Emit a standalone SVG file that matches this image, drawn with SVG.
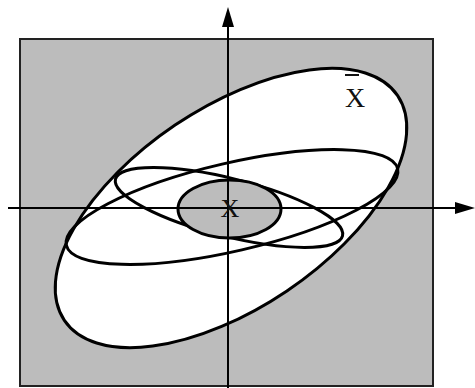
<svg xmlns="http://www.w3.org/2000/svg" width="475" height="388" viewBox="0 0 475 388">
<style>
.curve{fill:none;stroke:#000;stroke-width:3}
.axis{stroke:#000;stroke-width:2;fill:none}
.lbl{font-family:"Liberation Serif","Times New Roman",serif;fill:#111}
</style>
<defs>
<marker id="arr" viewBox="0 0 20 12" refX="0" refY="6" markerWidth="20" markerHeight="12" markerUnits="userSpaceOnUse" orient="auto">
<path d="M0,0 L20,6 L0,12 Z" fill="#000"/>
</marker>
</defs>
<rect width="475" height="388" fill="#fff"/>
<g id="field">
<rect x="20" y="39" width="413" height="347" fill="#bcbcbc" stroke="#222" stroke-width="2"/>
</g>
<g id="outer-ellipse">
<ellipse cx="231" cy="208" rx="201" ry="100" transform="rotate(-34 231 208)" fill="#fff" class="curve" style="fill:#fff"/>
</g>
<g id="ellipse-a">
<ellipse cx="232" cy="207" rx="170" ry="44" transform="rotate(-13 232 207)" class="curve"/>
</g>
<g id="ellipse-b">
<ellipse cx="229" cy="207.5" rx="117" ry="29" transform="rotate(14 229 207.5)" class="curve"/>
</g>
<g id="inner-ellipse">
<ellipse cx="229.5" cy="209" rx="51.5" ry="29" fill="#bcbcbc" class="curve" style="fill:#bcbcbc"/>
</g>
<g id="axes">
<line class="axis" x1="228" y1="388" x2="228" y2="27" marker-end="url(#arr)"/>
<line class="axis" x1="8" y1="208" x2="455" y2="208" marker-end="url(#arr)"/>
</g>
<g id="label-xbar">
<line x1="345" y1="75" x2="359" y2="75" stroke="#111" stroke-width="2"/>
<text class="lbl" x="355" y="107" font-size="28" text-anchor="middle">X</text>
</g>
<g id="label-x">
<text class="lbl" x="230" y="217" font-size="26" text-anchor="middle">X</text>
</g>
</svg>
